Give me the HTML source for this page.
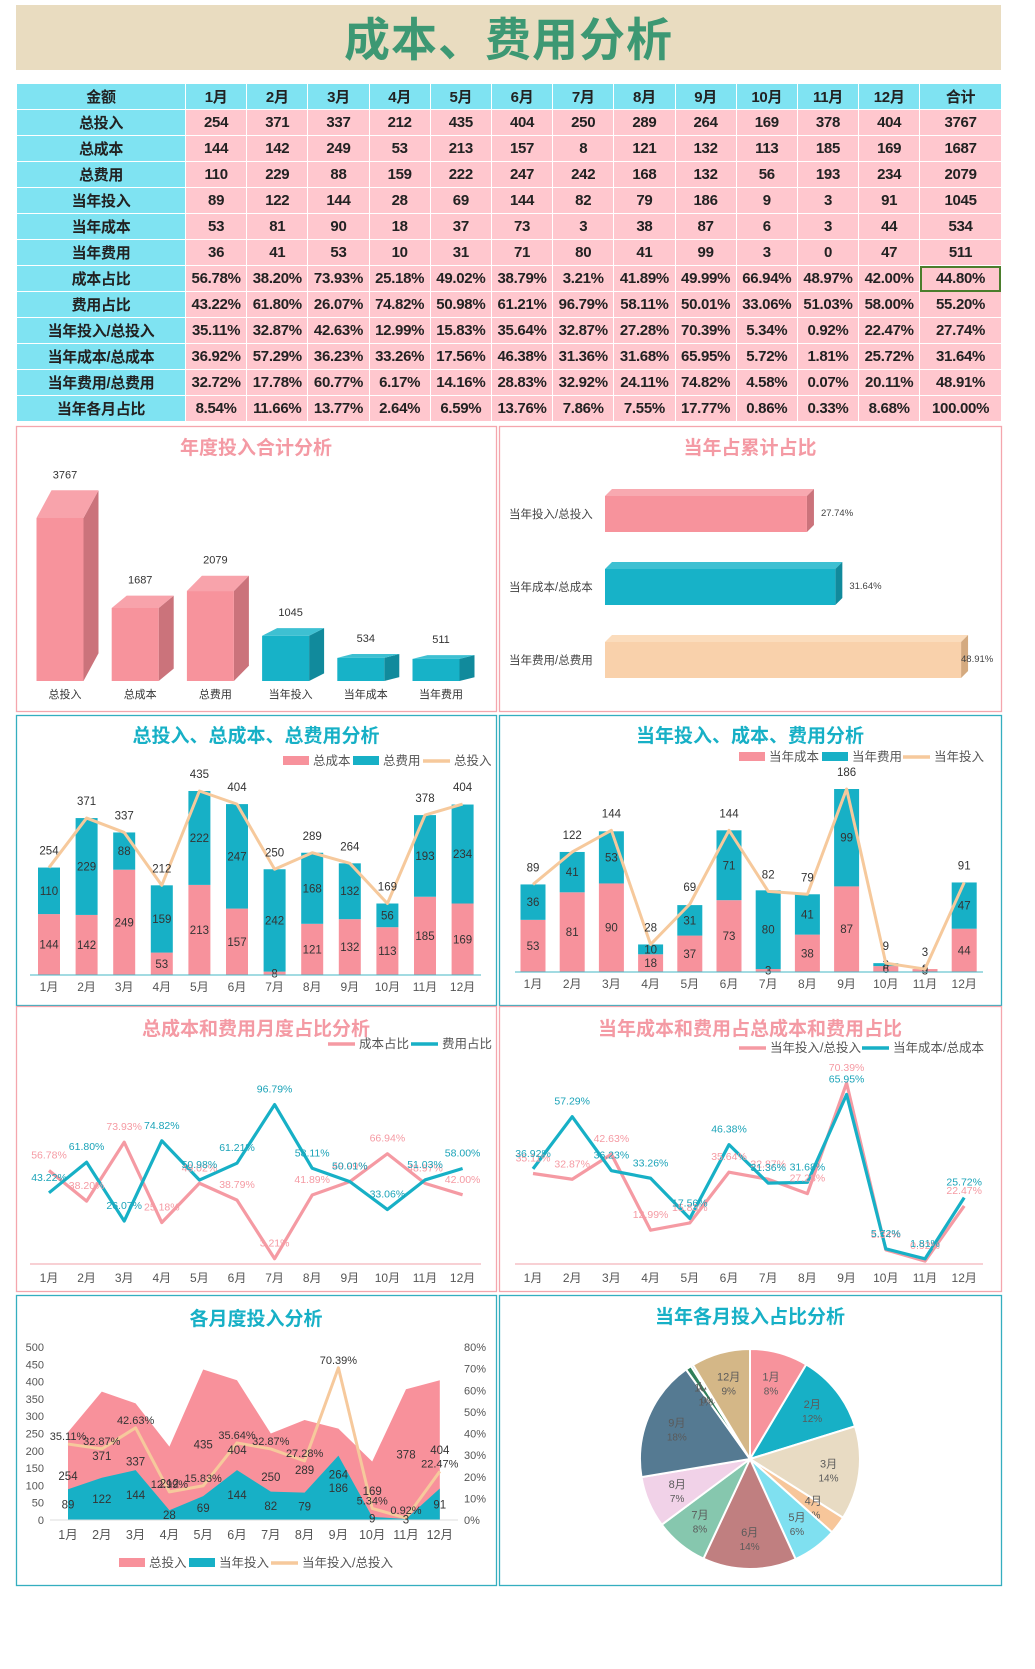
<!DOCTYPE html>
<html><head><meta charset="utf-8"><title>成本、费用分析</title>
<style>
*{margin:0;padding:0;box-sizing:border-box}
body{width:1035px;height:1669px;background:#fff;position:relative;overflow:hidden;font-family:"Liberation Sans","Noto Sans CJK SC",sans-serif}
#banner{position:absolute;left:16px;top:5px;width:985px;height:65px;background:#e9dcc0;text-align:center;line-height:65px;font-size:46px;font-weight:bold;color:#3d9873;letter-spacing:1px;font-family:"Noto Sans CJK SC",sans-serif}
#tbl{position:absolute;left:16px;top:83px;width:985px;border-collapse:collapse;table-layout:fixed}
#tbl td{height:26px;border:1px solid #fff;text-align:center;font-weight:bold;font-size:15px;color:#222;background:#ffc7ce;padding:0;white-space:nowrap;overflow:hidden;font-family:"Liberation Sans","Noto Sans CJK SC",sans-serif;letter-spacing:-0.3px}
#tbl tr.h td{background:#7fe3f2}
#tbl td.l{background:#7fe3f2}
#tbl td.sel{outline:2px solid #4b7d2c;outline-offset:-2px}
#charts{position:absolute;left:0;top:0}
svg text{font-family:"Liberation Sans","Noto Sans CJK SC",sans-serif}
</style></head><body>
<div id="banner">成本、费用分析</div>
<table id="tbl">
<colgroup><col style="width:169px"><col span="12" style="width:61.2px"><col style="width:81.6px"></colgroup>
<tbody id="tb"></tbody>
</table>
<svg id="charts" width="1035" height="1669"></svg>
<script>
const months=['1月','2月','3月','4月','5月','6月','7月','8月','9月','10月','11月','12月'];
const totInv=[254,371,337,212,435,404,250,289,264,169,378,404];
const totCost=[144,142,249,53,213,157,8,121,132,113,185,169];
const totFee=[110,229,88,159,222,247,242,168,132,56,193,234];
const curInv=[89,122,144,28,69,144,82,79,186,9,3,91];
const curCost=[53,81,90,18,37,73,3,38,87,6,3,44];
const curFee=[36,41,53,10,31,71,80,41,99,3,0,47];
const costRatio=[56.78,38.20,73.93,25.18,49.02,38.79,3.21,41.89,49.99,66.94,48.97,42.00];
const feeRatio=[43.22,61.80,26.07,74.82,50.98,61.21,96.79,58.11,50.01,33.06,51.03,58.00];
const invPct=[35.11,32.87,42.63,12.99,15.83,35.64,32.87,27.28,70.39,5.34,0.92,22.47];
const costPct=[36.92,57.29,36.23,33.26,17.56,46.38,31.36,31.68,65.95,5.72,1.81,25.72];
const feePct=[32.72,17.78,60.77,6.17,14.16,28.83,32.92,24.11,74.82,4.58,0.07,20.11];
const monthShare=[8.54,11.66,13.77,2.64,6.59,13.76,7.86,7.55,17.77,0.86,0.33,8.68];
const pieLabels=['8%','12%','14%','3%','6%','14%','8%','7%','18%','1%','0%','9%'];
const sumCats=['总投入','总成本','总费用','当年投入','当年成本','当年费用'];
const sumVals=[3767,1687,2079,1045,534,511];
const ratioCats=['当年投入/总投入','当年成本/总成本','当年费用/总费用'];
const ratioVals=[27.74,31.64,48.91];
const rowLabels=['总投入','总成本','总费用','当年投入','当年成本','当年费用','成本占比','费用占比','当年投入/总投入','当年成本/总成本','当年费用/总费用','当年各月占比'];
const rowTotals=['3767','1687','2079','1045','534','511','44.80%','55.20%','27.74%','31.64%','48.91%','100.00%'];

const PINK='#f7929c',TEAL='#17b0c6',PEACH='#f6c99c',PINKT='#f49aa4';
const tb=document.getElementById('tb');
const rows=[totInv,totCost,totFee,curInv,curCost,curFee,costRatio,feeRatio,invPct,costPct,feePct,monthShare];
{
  const tr=document.createElement('tr');tr.className='h';
  
  
  ['金额',...months,'合计'].forEach(h=>{const td=document.createElement('td');td.textContent=h;
    
    
    tr.appendChild(td);});
  tb.appendChild(tr);
}
rows.forEach((r,ri)=>{
  const tr=document.createElement('tr');
  
  
  const l=document.createElement('td');l.className='l';l.textContent=rowLabels[ri];
  
  
  tr.appendChild(l);
  r.forEach(v=>{const td=document.createElement('td');td.textContent=ri>=6?v.toFixed(2)+'%':String(v);
    
    
    tr.appendChild(td);});
  const t=document.createElement('td');t.textContent=rowTotals[ri];if(ri===6)t.className='sel';
  
  
  tr.appendChild(t);
  tb.appendChild(tr);
});
const NS='http://www.w3.org/2000/svg';const svg=document.getElementById('charts');
function mk(tag,a,p){const e=document.createElementNS(NS,tag);for(const k in a)e.setAttribute(k,a[k]);(p||svg).appendChild(e);return e;}
function tx(x,y,s,a,p){const e=mk('text',Object.assign({x:x,y:y,'text-anchor':'middle','font-size':11,fill:'#444'},a),p);e.textContent=s;return e;}
function panel(x,y,w,h,c,name,title,tc,ty){
  const g=mk('g',{});
  
  
  const r=mk('rect',{x:x+.5,y:y+.5,width:w,height:h,fill:'#fff',stroke:c,'stroke-width':1.3},g);
  
  
  const t=tx(x+w/2,ty,title,{'font-size':19,'font-weight':'bold',fill:tc,'font-family':'"Noto Sans CJK SC",sans-serif'},g);
  
  
  return g;
}
function legendRect(g,x,y,c,label){const r=mk('rect',{x:x,y:y-5,width:26,height:9,fill:c},g);
  
  
  const t=tx(x+30,y+4,label,{'text-anchor':'start','font-size':12.5,fill:'#555'},g);
  
  }
function legendLine(g,x,y,c,label){const l=mk('line',{x1:x,y1:y,x2:x+27,y2:y,stroke:c,'stroke-width':3.5},g);
  
  
  const t=tx(x+31,y+4,label,{'text-anchor':'start','font-size':12.5,fill:'#555'},g);
  
  }
function monthAxis(g,xf,yb,x1,x2,ly,col){
  const l=mk('line',{x1:x1,y1:yb,x2:x2,y2:yb,stroke:col,'stroke-width':1},g);
  
  
  months.forEach((m,i)=>{const t=tx(xf(i),ly,m,{'font-size':12,fill:'#555'},g);
    
    });
}
{
  const g=panel(16,426,480,285,'#f4a6ad','annual-total-chart','年度投入合计分析',PINKT,454);
  const base=681,sc=163/3767,x=i=>60+i*75.2,bw=47,dx=15;
  sumVals.forEach((v,i)=>{
    const h=v*sc,top=base-h,dy=h*0.17,xl=x(i)-bw/2,xr=x(i)+bw/2;
    const pk=i<3;const f=pk?'#f7939c':'#17b2c8',s=pk?'#cb737b':'#118a9c',tp=pk?'#f8a3ab':'#3ec0d2';
    const bar=mk('g',{},g);
    
    
    mk('polygon',{points:`${xr},${top} ${xr+dx},${top-dy} ${xr+dx},${base-dy} ${xr},${base}`,fill:s},bar);
    mk('polygon',{points:`${xl},${top} ${xl+dx},${top-dy} ${xr+dx},${top-dy} ${xr},${top}`,fill:tp},bar);
    mk('rect',{x:xl,y:top,width:bw,height:h,fill:f},bar);
    const vl=tx(x(i)+5,top-dy-12,String(v),{'font-size':11,fill:'#333'},g);
    
    
    const cl=tx(x(i)+5,698,sumCats[i],{'font-size':11,fill:'#333'},g);
    
    
  });
}
{
  const g=panel(499,426,502,285,'#f4a6ad','current-ratio-chart','当年占累计占比',PINKT,454);
  const x0=605,sc=7.28,yc=i=>514+i*73,bh=36,d=7;
  const cols=[['#f7939c','#cb737b','#f8a9b0'],['#17b2c8','#118a9c','#3ec0d2'],['#f9d1ab','#d4aa80','#fbdcbc']];
  ratioVals.forEach((v,i)=>{
    const w=v*sc,y=yc(i)-bh/2;const c=cols[i];
    const bar=mk('g',{},g);
    
    
    mk('polygon',{points:`${x0},${y} ${x0+d},${y-d} ${x0+w+d},${y-d} ${x0+w},${y}`,fill:c[2]},bar);
    mk('polygon',{points:`${x0+w},${y} ${x0+w+d},${y-d} ${x0+w+d},${y+bh-d} ${x0+w},${y+bh}`,fill:c[1]},bar);
    mk('rect',{x:x0,y:y,width:w,height:bh,fill:c[0]},bar);
    const cl=tx(509,yc(i)+4,ratioCats[i],{'text-anchor':'start','font-size':11.5,fill:'#444'},g);
    
    
    const vl=tx(Math.min(x0+w+14,961),yc(i)+2,v.toFixed(2)+'%',{'text-anchor':'start','font-size':9.5,fill:'#444'},g);
    
    
  });
}
function stacked(g,cost,fee,inv,xf,base,sc,bw){
  cost.forEach((c,i)=>{
    const f=fee[i],yc=base-c*sc,yf=yc-f*sc;
    const r1=mk('rect',{x:xf(i)-bw/2,y:yc,width:bw,height:c*sc,fill:PINK},g);
    
    
    const r2=mk('rect',{x:xf(i)-bw/2,y:yf,width:bw,height:f*sc,fill:TEAL},g);
    
    
    const l1=tx(xf(i),yc+c*sc/2+4,String(c),{'font-size':11.5,fill:'#333'},g);
    
    
    const l2=tx(xf(i),yf+f*sc/2+4,String(f),{'font-size':11.5,fill:'#333'},g);
    
    
  });
  const pl=mk('polyline',{points:inv.map((v,i)=>xf(i)+','+(base-v*sc)).join(' '),fill:'none',stroke:PEACH,'stroke-width':3,'stroke-linejoin':'round'},g);
  
  
  inv.forEach((v,i)=>{const t=tx(xf(i),base-v*sc-13,String(v),{'font-size':11.5,fill:'#333'},g);
    
    });
}
{
  const g=panel(16,715,480,290,'#35aebf','total-stack-chart','总投入、总成本、总费用分析',TEAL,742);
  const xf=i=>49+i*37.6,base=975,sc=184/435;
  stacked(g,totCost,totFee,totInv,xf,base,sc,22);
  monthAxis(g,xf,base,30,481,991,'#45b7c6');
  legendRect(g,283,761,PINK,'总成本');legendRect(g,353,761,TEAL,'总费用');legendLine(g,423,761,PEACH,'总投入');
}
{
  const g=panel(499,715,502,290,'#35aebf','current-stack-chart','当年投入、成本、费用分析',TEAL,742);
  const xf=i=>533+i*39.2,base=972,sc=183/186;
  stacked(g,curCost,curFee,curInv,xf,base,sc,25);
  monthAxis(g,xf,base,515,983,988,'#45b7c6');
  legendRect(g,739,757,PINK,'当年成本');legendRect(g,822,757,TEAL,'当年费用');legendLine(g,903,757,PEACH,'当年投入');
}
function lines(g,a,b,xf,yf,ca,cb,la,lb){
  [[a,ca],[b,cb]].forEach(([arr,c],k)=>{
    const pl=mk('polyline',{points:arr.map((v,i)=>xf(i)+','+yf(v)).join(' '),fill:'none',stroke:c,'stroke-width':3.2,'stroke-linejoin':'round'},g);
    
    
  });
  [[a,la],[b,lb]].forEach(([arr,lc])=>{
    arr.forEach((v,i)=>{const t=tx(xf(i),yf(v)-12,v.toFixed(2)+'%',{'font-size':10.5,fill:lc},g);
      
      });
  });
}
{
  const g=panel(16,1006,480,285,'#f4a6ad','monthly-ratio-chart','总成本和费用月度占比分析',PINKT,1035);
  const xf=i=>49+i*37.6,yf=v=>1264-v*1.647;
  lines(g,costRatio,feeRatio,xf,yf,'#f59aa3',TEAL,'#f59aa3','#1aa3b8');
  monthAxis(g,xf,1264,30,481,1282,'#f0a0a8');
  legendLine(g,328,1044,'#f59aa3','成本占比');legendLine(g,411,1044,TEAL,'费用占比');
}
{
  const g=panel(499,1006,502,285,'#f4a6ad','current-share-chart','当年成本和费用占总成本和费用占比',PINKT,1035);
  const xf=i=>533+i*39.2,yf=v=>1263.5-v*2.563;
  lines(g,invPct,costPct,xf,yf,'#f59aa3',TEAL,'#f59aa3','#1aa3b8');
  monthAxis(g,xf,1264,515,983,1282,'#f0a0a8');
  legendLine(g,739,1048,'#f59aa3','当年投入/总投入');legendLine(g,862,1048,TEAL,'当年成本/总成本');
}
{
  const g=panel(16,1295,480,290,'#35aebf','monthly-investment-chart','各月度投入分析',TEAL,1325);
  const xf=i=>68+i*33.8,base=1520,yf=v=>base-v*173/500,yp=p=>base-p*173/80;
  const leftTicks=[0,50,100,150,200,250,300,350,400,450,500],rightTicks=[0,10,20,30,40,50,60,70,80];
  leftTicks.forEach(t=>{const e=tx(44,yf(t)+4,String(t),{'text-anchor':'end','font-size':11,fill:'#555'},g);
    
    });
  rightTicks.forEach(t=>{const e=tx(464,yp(t)+4,t+'%',{'text-anchor':'start','font-size':11,fill:'#555'},g);
    
    });
  const a1=mk('polygon',{points:xf(0)+','+base+' '+totInv.map((v,i)=>xf(i)+','+yf(v)).join(' ')+' '+xf(11)+','+base,fill:'#f8919b'},g);
  
  
  const a2=mk('polygon',{points:xf(0)+','+base+' '+curInv.map((v,i)=>xf(i)+','+yf(v)).join(' ')+' '+xf(11)+','+base,fill:TEAL},g);
  
  
  const ax=mk('line',{x1:50,y1:base,x2:458,y2:base,stroke:'#ddd'},g);
  
  
  const pl=mk('polyline',{points:invPct.map((v,i)=>xf(i)+','+yp(v)).join(' '),fill:'none',stroke:PEACH,'stroke-width':3,'stroke-linejoin':'round'},g);
  
  
  totInv.forEach((v,i)=>{const t=tx(xf(i),yf(v/2)+4,String(v),{'font-size':11.5,fill:'#333'},g);
    
    });
  curInv.forEach((v,i)=>{const t=tx(xf(i),yf(v/2)+4,String(v),{'font-size':11.5,fill:'#333'},g);
    
    });
  invPct.forEach((v,i)=>{const t=tx(xf(i),yp(v)-4,v.toFixed(2)+'%',{'font-size':11,fill:'#333'},g);
    
    });
  months.forEach((m,i)=>{const t=tx(xf(i),1539,m,{'font-size':12.5,fill:'#555'},g);
    
    });
  legendRect(g,119,1563,'#f8919b','总投入');legendRect(g,189,1563,TEAL,'当年投入');legendLine(g,271,1563,PEACH,'当年投入/总投入');
}
{
  const g=panel(499,1295,502,290,'#35aebf','monthly-share-pie','当年各月投入占比分析',TEAL,1323);
  const cx=750,cy=1459,r=110;
  const cols=['#f7939c','#17b0c6','#e8dbc3','#f7c69a','#7fe0f0','#c07f80','#86c7ae','#f1d2e8','#557a92','#2f7f5a','#1a9fb0','#d4b787'];
  const sum=monthShare.reduce((a,b)=>a+b,0);let ang=-Math.PI/2;
  monthShare.forEach((v,i)=>{
    const a0=ang,a1=ang+v/sum*2*Math.PI;ang=a1;
    const p=`M${cx},${cy} L${cx+r*Math.cos(a0)},${cy+r*Math.sin(a0)} A${r},${r} 0 ${a1-a0>Math.PI?1:0} 1 ${cx+r*Math.cos(a1)},${cy+r*Math.sin(a1)} Z`;
    const s=mk('path',{d:p,fill:cols[i],stroke:'#fff','stroke-width':2},g);
    
    
    const am=(a0+a1)/2,lr=r*0.72,lx=cx+lr*Math.cos(am),ly=cy+lr*Math.sin(am);
    const t1=tx(lx,ly-2,months[i],{'font-size':11,fill:'#5a5a5a'},g);
    
    
    const t2=tx(lx,ly+12,pieLabels[i],{'font-size':10,fill:'#5a5a5a'},g);
    
    
  });
}
</script>
</body></html>
